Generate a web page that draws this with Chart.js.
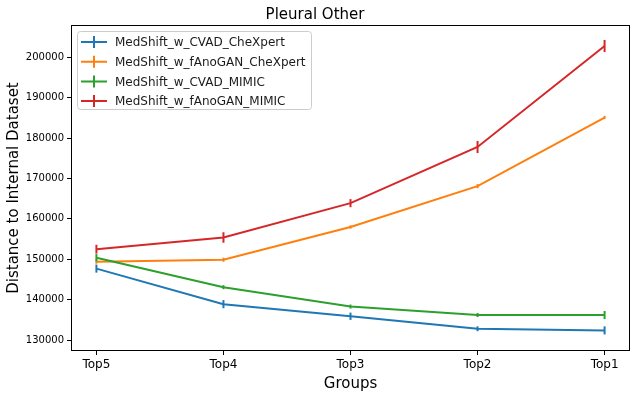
<!DOCTYPE html>
<html>
<head>
<meta charset="utf-8">
<script src="https://cdn.jsdelivr.net/npm/chart.js@4/dist/chart.umd.min.js"></script>
<style>
  html, body { margin: 0; padding: 0; background: #fff; }
  #wrap { width: 636px; height: 397px; }
</style>
</head>
<body>
<div id="wrap"><canvas id="grafico"></canvas></div>
<script>
  // data
  var groups = ['Top5', 'Top4', 'Top3', 'Top2', 'Top1'];
  var seriesNames = ['MedShift_w_CVAD_CheXpert', 'MedShift_w_fAnoGAN_CheXpert', 'MedShift_w_CVAD_MIMIC', 'MedShift_w_fAnoGAN_MIMIC'];
  var cvadChexpert = [147700, 138900, 135900, 132800, 132400];
  var fanoganChexpert = [149400, 149900, 158000, 168100, 185100];
  var cvadMimic = [150400, 143100, 138300, 136200, 136200];
  var fanoganMimic = [152500, 155400, 163900, 177800, 202800];
  var errCvadChexpert = [1000, 1000, 900, 600, 1000];
  var errFanoganChexpert = [500, 500, 400, 500, 400];
  var errCvadMimic = [900, 500, 500, 500, 1000];
  var errFanoganMimic = [1100, 1300, 1000, 1500, 1500];
  var yTicks = [130000, 140000, 150000, 160000, 170000, 180000, 190000, 200000];

  var colores = ['#1f77b4', '#ff7f0e', '#2ca02c', '#d62728'];
  var valores = [cvadChexpert, fanoganChexpert, cvadMimic, fanoganMimic];
  var errores = [errCvadChexpert, errFanoganChexpert, errCvadMimic, errFanoganMimic];
  var fuente = "'DejaVu Sans', sans-serif";

  var datasets = valores.map(function(v, i) {
    return {
      label: seriesNames[i],
      data: v.map(function(y, j) { return { x: j, y: y }; }),
      borderColor: colores[i],
      backgroundColor: colores[i],
      borderWidth: 2,
      pointRadius: 0,
      tension: 0,
      fill: false,
      order: 4 - i,
      errores: errores[i]
    };
  });

  // vertical error bars, no caps
  var barrasError = {
    id: 'barrasError',
    afterDatasetsDraw: function(chart) {
      var ctx = chart.ctx, xs = chart.scales.x, ys = chart.scales.y;
      ctx.save();
      chart.data.datasets.forEach(function(ds) {
        ctx.strokeStyle = ds.borderColor;
        ctx.lineWidth = 2;
        ds.data.forEach(function(p, j) {
          var e = ds.errores[j];
          var px = xs.getPixelForValue(p.x);
          ctx.beginPath();
          ctx.moveTo(px, ys.getPixelForValue(p.y - e));
          ctx.lineTo(px, ys.getPixelForValue(p.y + e));
          ctx.stroke();
        });
      });
      ctx.restore();
    }
  };

  // frame + legend inside the axes like matplotlib
  var marcoLeyenda = {
    id: 'marcoLeyenda',
    afterDraw: function(chart) {
      var ctx = chart.ctx, a = chart.chartArea;
      ctx.save();
      ctx.strokeStyle = '#000';
      ctx.lineWidth = 1;
      ctx.strokeRect(a.left + 0.5, a.top + 0.5, a.right - a.left - 1, a.bottom - a.top - 1);

      var bx = a.left + 6, by = a.top + 6, bw = 234, bh = 78;
      ctx.fillStyle = 'rgba(255,255,255,0.8)';
      ctx.strokeStyle = '#cccccc';
      ctx.beginPath();
      ctx.roundRect(bx + 0.5, by + 0.5, bw, bh, 3);
      ctx.fill();
      ctx.stroke();

      ctx.font = '12px ' + fuente;
      ctx.textBaseline = 'middle';
      chart.data.datasets.forEach(function(ds, i) {
        var cy = by + 11 + i * 19.7;
        ctx.strokeStyle = ds.borderColor;
        ctx.lineWidth = 2;
        ctx.beginPath();
        ctx.moveTo(bx + 4, cy);
        ctx.lineTo(bx + 30, cy);
        ctx.moveTo(bx + 17, cy - 6);
        ctx.lineTo(bx + 17, cy + 6);
        ctx.stroke();
        ctx.fillStyle = '#1a1a1a';
        ctx.fillText(ds.label, bx + 38, cy + 1);
      });
      ctx.restore();
    }
  };

  var chart = new Chart(document.getElementById('grafico').getContext('2d'), {
    type: 'line',
    data: { datasets: datasets },
    plugins: [barrasError, marcoLeyenda],
    options: {
      responsive: true,
      maintainAspectRatio: false,
      animation: false,
      layout: { padding: { left: 0, right: 6, top: 0, bottom: 0 } },
      plugins: {
        legend: { display: false },
        tooltip: { enabled: false },
        title: {
          display: true,
          text: 'Pleural Other',
          color: '#000',
          font: { family: fuente, size: 15, weight: 'normal' },
          padding: { top: 6, bottom: 1 }
        }
      },
      scales: {
        x: {
          type: 'linear',
          min: -0.2,
          max: 4.2,
          afterBuildTicks: function(s) { s.ticks = groups.map(function(g, i) { return { value: i }; }); },
          afterFit: function(s) { s.height = 46; },
          ticks: {
            color: '#000',
            font: { family: fuente, size: 12 },
            padding: 3,
            autoSkip: false,
            maxRotation: 0,
            callback: function(v) { return groups[v]; }
          },
          grid: { display: true, drawOnChartArea: false, drawTicks: true, tickLength: 4, color: '#000' },
          border: { display: false },
          title: {
            display: true,
            text: 'Groups',
            color: '#000',
            font: { family: fuente, size: 15 },
            padding: { top: 0, bottom: 4 }
          }
        },
        y: {
          min: 127300,
          max: 208000,
          afterBuildTicks: function(s) { s.ticks = yTicks.map(function(v) { return { value: v }; }); },
          afterFit: function(s) { s.width = 71; },
          ticks: {
            color: '#000',
            font: { family: fuente, size: 10 },
            padding: 3,
            callback: function(v) { return String(v); }
          },
          grid: { display: true, drawOnChartArea: false, drawTicks: true, tickLength: 4, color: '#000' },
          border: { display: false },
          title: {
            display: true,
            text: 'Distance to Internal Dataset',
            color: '#000',
            font: { family: fuente, size: 15 },
            padding: { top: 5, bottom: 0 }
          }
        }
      }
    }
  });
</script>
</body>
</html>
